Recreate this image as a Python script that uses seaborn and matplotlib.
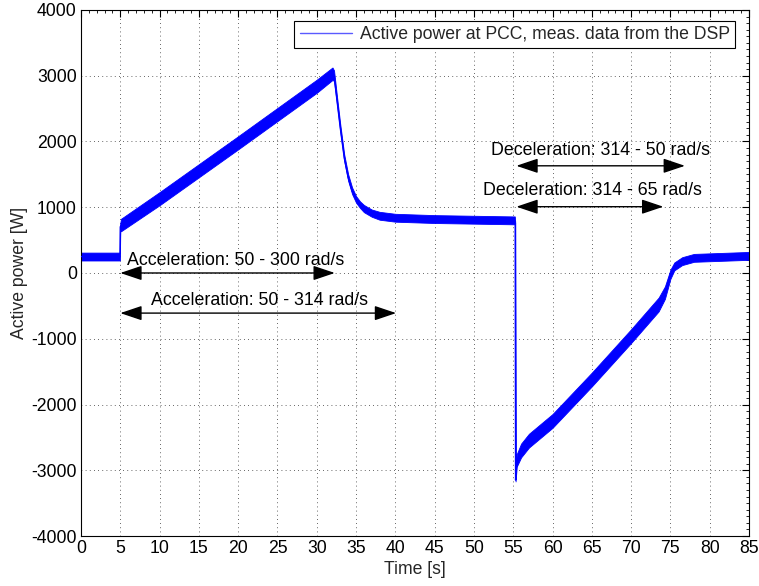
import numpy as np
import pandas as pd
import matplotlib
matplotlib.use("Agg")
import matplotlib.pyplot as plt
from matplotlib.ticker import MultipleLocator
import seaborn as sns

# Measured active power at the PCC (DSP log), read as a centre trace
# plus the half-width of the measurement noise band around it.
time_s = [0.0, 4.95, 5.0, 5.1, 10.0, 20.0, 30.0, 32.0, 32.2, 32.6, 33.0,
          33.5, 34.0, 34.5, 35.0, 35.5, 36.0, 37.0, 38.0, 40.0, 45.0, 55.2,
          55.25, 55.3, 55.45, 56.0, 57.0, 60.0, 65.0, 70.0, 73.5, 74.3, 75.0,
          75.5, 76.5, 78.0, 85.0]
power_w = [250, 250, 700, 730, 1130, 1980, 2840, 3030, 3000, 2600, 2200,
           1750, 1450, 1250, 1120, 1040, 980, 910, 870, 840, 820, 800,
           780, -3150, -2850, -2700, -2550, -2250, -1620, -960, -480, -300, -20,
           100, 180, 230, 260]
noise_w = [60, 60, 60, 95, 100, 100, 100, 95, 80, 60, 55,
           50, 50, 50, 50, 50, 55, 55, 60, 60, 60, 60,
           10, 20, 95, 105, 105, 105, 105, 105, 105, 95, 70,
           60, 60, 60, 60]

x_ticks = list(range(0, 86, 5))
y_ticks = list(range(-4000, 4001, 1000))

# Double-headed arrows marking the speed ramps:
# (label, t_start, t_end, arrow level, text x, text baseline level)
spans = [
    ("Acceleration: 50 - 300 rad/s", 5.0, 32.3, 0, 5.9, 115),
    ("Acceleration: 50 - 314 rad/s", 5.0, 40.1, -610, 8.9, -483),
    ("Deceleration: 314 - 50 rad/s", 55.4, 76.85, 1630, 52.15, 1787),
    ("Deceleration: 314 - 65 rad/s", 55.4, 74.1, 1008, 51.1, 1186),
]

df = pd.DataFrame({"t": time_s, "p": power_w, "n": noise_w})

sns.set_style("white")
plt.rcParams["font.family"] = ["Liberation Sans", "DejaVu Sans"]
plt.rcParams["axes.unicode_minus"] = False

fig = plt.figure(figsize=(7.59, 5.86), dpi=100)
ax = fig.add_axes([0.1067, 0.0853, 0.8801, 0.8977])

blue = "#0000ff"
ax.fill_between(df["t"], df["p"] - df["n"], df["p"] + df["n"],
                color=blue, linewidth=0.6, edgecolor=blue, zorder=2)
sns.lineplot(data=df, x="t", y="p", estimator=None, sort=False, color=blue,
             linewidth=1.0, ax=ax, zorder=3,
             label="Active power at PCC, meas. data from the DSP")

for label, t0, t1, level, tx, ty in spans:
    ax.annotate("", xy=(t1, level), xytext=(t0, level),
                arrowprops=dict(arrowstyle="<|-|>,head_length=0.95,head_width=0.32",
                                color="black", lw=1.0, shrinkA=0, shrinkB=0,
                                mutation_scale=14),
                zorder=4)
    ax.text(tx, ty, label, fontsize=12.8, color="black", ha="left",
            va="baseline", zorder=5)

ax.set_xlim(0, 85)
ax.set_ylim(-4000, 4000)
ax.set_xticks(x_ticks)
ax.set_yticks(y_ticks)
ax.xaxis.set_minor_locator(MultipleLocator(1))
ax.yaxis.set_minor_locator(MultipleLocator(100))
ax.set_xticklabels([str(v) for v in x_ticks], fontsize=12.7)
ax.set_yticklabels([str(v) for v in y_ticks], fontsize=12.7)
ax.set_xlabel("Time [s]", fontsize=12.7, labelpad=3)
ax.set_ylabel("Active power [W]", fontsize=12.7, labelpad=2)

ax.grid(True, which="major", linestyle=(0, (1, 4)), color="black",
        linewidth=0.6, alpha=0.8)
ax.set_axisbelow(True)
ax.tick_params(which="major", direction="in", length=5, width=0.8, top=True,
               right=True, colors="black", pad=3)
ax.tick_params(which="minor", direction="in", length=2.5, width=0.6, top=True,
               right=True, colors="black")
for side in ax.spines.values():
    side.set_visible(True)
    side.set_color("black")
    side.set_linewidth(0.8)

leg = ax.legend(loc="upper right", fontsize=12.7, frameon=True, fancybox=False,
                framealpha=1, edgecolor="black", borderpad=0.3,
                handlelength=3.0, handletextpad=0.4,
                bbox_to_anchor=(0.992, 0.996))
leg.get_frame().set_linewidth(0.8)
for h in leg.get_lines():
    h.set_color("#5a5aff")
    h.set_linewidth(1.0)

fig.savefig("out.png", dpi=100)
